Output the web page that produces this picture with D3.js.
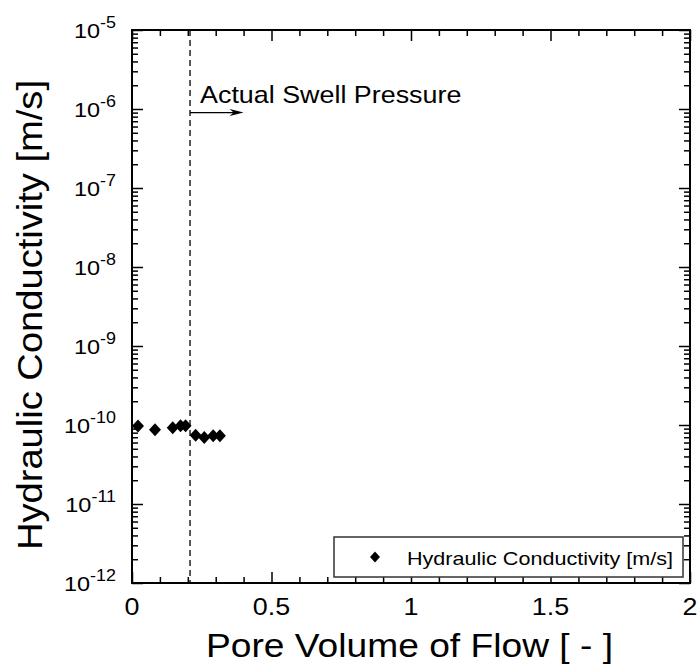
<!DOCTYPE html>
<html><head><meta charset="utf-8">
<script src="https://cdn.jsdelivr.net/npm/d3@7"></script>
<style>
body{margin:0;background:#fff}
svg{display:block}
text{font-family:Arial,"Liberation Sans",sans-serif;fill:#000}
</style>
</head><body>
<svg id="chart" width="699" height="669"></svg>
<script>
// ---- data ----
const poreVolume = [0.0215, 0.0824, 0.146, 0.174, 0.192, 0.228, 0.259, 0.291, 0.315];
const conductivity = [9.7e-11, 8.7e-11, 9.2e-11, 9.8e-11, 9.8e-11, 7.4e-11, 6.95e-11, 7.3e-11, 7.3e-11];
const xTicks = [0, 0.5, 1, 1.5, 2];
const xTickLabels = ["0", "0.5", "1", "1.5", "2"];
const yExponents = [-12, -11, -10, -9, -8, -7, -6, -5];
const swellPressureX = 0.208;
const arrowEndX = 0.4;
const seriesName = "Hydraulic Conductivity [m/s]";
const xTitle = "Pore Volume of Flow [ - ]";
const yTitle = "Hydraulic Conductivity [m/s]";
const annotation = "Actual Swell Pressure";

// ---- layout ----
const L = 132, R = 690, T = 30, B = 583;
const SX = 1.12;
const svg = d3.select("#chart");

const x = d3.scaleLinear().domain([0, 2]).range([L, R]);
const y = d3.scaleLog().domain([1e-12, 1e-5]).range([B, T]);

const minorX = d3.range(1, 20).map(i => i / 10).filter(v => Math.abs(v * 2 - Math.round(v * 2)) > 1e-9);
const minorY = [];
yExponents.slice(0, -1).forEach(e => { for (let k = 2; k <= 9; k++) minorY.push(k * Math.pow(10, e)); });
const majorY = yExponents.map(e => Math.pow(10, e));

function axisG(gen, tx, ty) {
  const g = svg.append("g").attr("transform", `translate(${tx},${ty})`).call(gen);
  g.select(".domain").remove();
  g.selectAll("text").remove();
  g.selectAll("line").attr("stroke", "#000").attr("stroke-width", 1.5);
  return g;
}
// bottom / top
axisG(d3.axisBottom(x).tickValues(xTicks).tickSize(-11).tickFormat(""), 0, B);
axisG(d3.axisBottom(x).tickValues(minorX).tickSize(-6).tickFormat(""), 0, B);
axisG(d3.axisTop(x).tickValues(xTicks).tickSize(-11).tickFormat(""), 0, T);
axisG(d3.axisTop(x).tickValues(minorX).tickSize(-6).tickFormat(""), 0, T);
// left / right
axisG(d3.axisLeft(y).tickValues(majorY).tickSize(-11).tickFormat(""), L, 0);
axisG(d3.axisLeft(y).tickValues(minorY).tickSize(-6).tickFormat(""), L, 0);
axisG(d3.axisRight(y).tickValues(majorY).tickSize(-11).tickFormat(""), R, 0);
axisG(d3.axisRight(y).tickValues(minorY).tickSize(-6).tickFormat(""), R, 0);

// frame
svg.append("rect").attr("x", L).attr("y", T).attr("width", R - L).attr("height", B - T)
  .attr("fill", "none").attr("stroke", "#000").attr("stroke-width", 2);

// x tick labels
svg.append("g").selectAll("text").data(xTicks).join("text")
  .attr("transform", d => `translate(${x(d)},615) scale(${SX},1)`)
  .attr("text-anchor", "middle").attr("font-size", 24)
  .text((d, i) => xTickLabels[i]);

// y tick labels
const yl = svg.append("g").selectAll("text").data(yExponents).join("text")
  .attr("transform", d => `translate(116,${y(Math.pow(10, d)) + 8}) scale(${SX},1)`)
  .attr("text-anchor", "end").attr("font-size", 21);
yl.append("tspan").text("10");
yl.append("tspan").attr("dy", -10).attr("font-size", 16).text(d => String(d));

// axis titles
svg.append("text").attr("x", (206 + 613) / 2).attr("y", 657)
  .attr("text-anchor", "middle").attr("font-size", 33)
  .attr("textLength", 407).attr("lengthAdjust", "spacingAndGlyphs").text(xTitle);
svg.append("text").attr("transform", "translate(42,315) rotate(-90)")
  .attr("text-anchor", "middle").attr("font-size", 35)
  .attr("textLength", 470).attr("lengthAdjust", "spacingAndGlyphs").text(yTitle);

// swell pressure line + arrow
const sx = x(swellPressureX);
svg.append("line").attr("x1", sx).attr("x2", sx).attr("y1", T).attr("y2", B)
  .attr("stroke", "#000").attr("stroke-width", 1.3).attr("stroke-dasharray", "6,4");
const ay = y(9e-7);
const ax2 = x(arrowEndX);
svg.append("line").attr("x1", sx).attr("x2", ax2 - 8).attr("y1", ay).attr("y2", ay)
  .attr("stroke", "#000").attr("stroke-width", 1.3);
svg.append("path").attr("d", `M${ax2},${ay} L${ax2 - 14},${ay - 3.5} L${ax2 - 10},${ay} L${ax2 - 14},${ay + 3.5} Z`)
  .attr("fill", "#000");
svg.append("text").attr("transform", `translate(${sx + 10},${ay - 10}) scale(${SX},1)`)
  .attr("font-size", 24).text(annotation);

// data points
const diamond = "M0,-6.5L6,0L0,6.5L-6,0Z";
svg.append("g").selectAll("path").data(poreVolume).join("path")
  .attr("transform", (d, i) => `translate(${x(d)},${y(conductivity[i])})`)
  .attr("d", diamond).attr("fill", "#000");

// legend
const lg = svg.append("g");
lg.append("rect").attr("x", 334).attr("y", 537).attr("width", 349).attr("height", 40)
  .attr("fill", "#fff").attr("stroke", "#333").attr("stroke-width", 1.5);
lg.append("path").attr("transform", "translate(375,557)").attr("d", "M0,-5.5L5,0L0,5.5L-5,0Z").attr("fill", "#000");
lg.append("text").attr("x", 407).attr("y", 565).attr("font-size", 19)
  .attr("textLength", 266).attr("lengthAdjust", "spacingAndGlyphs").text(seriesName);
</script>
</body></html>
